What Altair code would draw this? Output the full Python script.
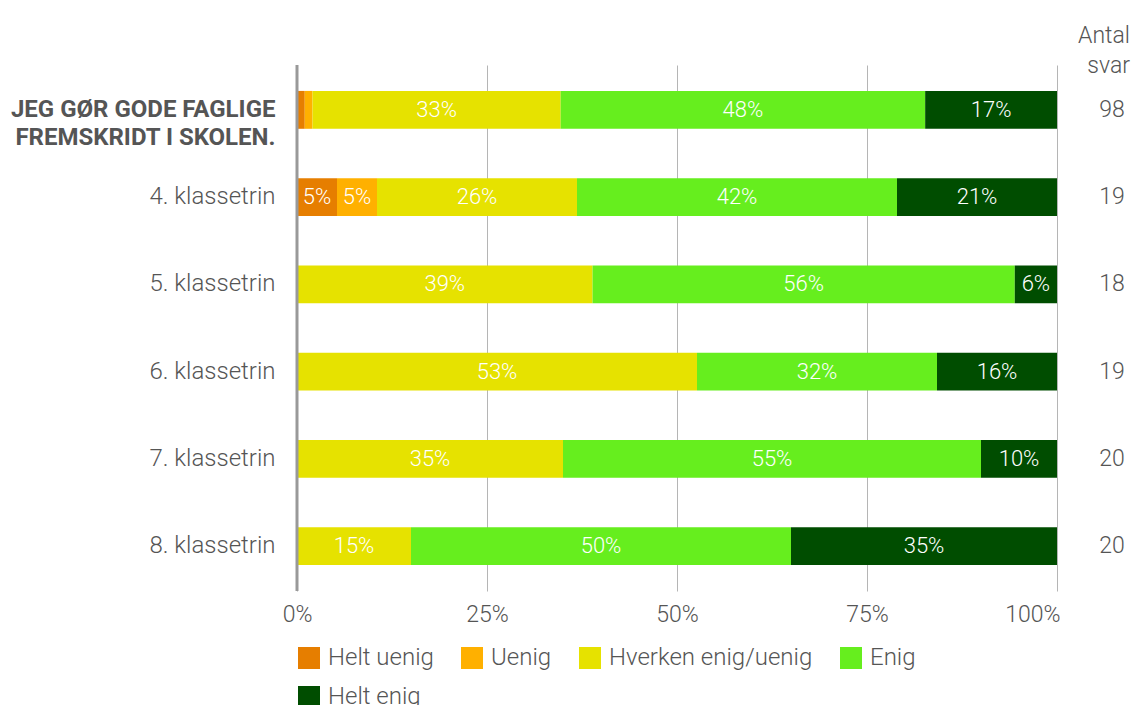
import altair as alt
import pandas as pd

rows = ["JEG GØR GODE FAGLIGE FREMSKRIDT I SKOLEN.", "4. klassetrin", "5. klassetrin",
        "6. klassetrin", "7. klassetrin", "8. klassetrin"]
answers = ["Helt uenig", "Uenig", "Hverken enig/uenig", "Enig", "Helt enig"]
colors = ["#E67E00", "#FFB000", "#E6E200", "#66EE1E", "#004D00"]

helt_uenig = [1, 1, 0, 0, 0, 0]
uenig = [1, 1, 0, 0, 0, 0]
hverken = [32, 5, 7, 10, 7, 3]
enig = [47, 8, 10, 6, 11, 10]
helt_enig = [17, 4, 1, 3, 2, 7]
totals = [98, 19, 18, 19, 20, 20]

series = [helt_uenig, uenig, hverken, enig, helt_enig]
recs = []
for i, r in enumerate(rows):
    cum = 0.0
    for j, a in enumerate(answers):
        pct = series[j][i] / totals[i] * 100
        recs.append({"row": r, "answer": a, "order": j, "start": cum, "end": cum + pct,
                     "mid": cum + pct / 2,
                     "label": f"{round(pct)}%" if pct >= 3 else ""})
        cum += pct
df = pd.DataFrame(recs)
df = df[df["end"] > df["start"]]
tot_df = pd.DataFrame({"row": rows, "n": totals})

FONT = "Roboto"
GREY = "#555555"
W = 300
first = rows[0]

yscale = alt.Scale(domain=rows, paddingInner=0.566, paddingOuter=0.297)
xscale = alt.Scale(domain=[0, 100], nice=False)

yaxis = alt.Axis(title=None, domain=False, ticks=False, labelPadding=22,
                 labelFont=FONT, labelColor=GREY,
                 labelFontSize=24,
                 labelFontWeight={"condition": {"test": f"datum.value == '{first}'", "value": "bold"}, "value": W},
                 labelLineHeight=28, labelLimit=400,
                 labelExpr=f"datum.value == '{first}' ? ['JEG GØR GODE FAGLIGE', 'FREMSKRIDT I SKOLEN.'] : datum.label")
xaxis = alt.Axis(title=None, domain=False, ticks=False, values=[0, 25, 50, 75, 100],
                 labelExpr="datum.value + '%'", labelFont=FONT, labelFontSize=23,
                 labelFontWeight=W,
                 labelColor=GREY, labelPadding=12, grid=True, gridColor="#b5b5b5",
                 labelAlign={"condition": {"test": "datum.value == 100", "value": "right"}, "value": "center"},
                 labelOffset={"condition": {"test": "datum.value == 100", "value": 3}, "value": 0})

base = alt.Chart(df)
bars = base.mark_bar().encode(
    y=alt.Y("row:N", scale=yscale, axis=yaxis, sort=rows),
    x=alt.X("start:Q", scale=xscale, axis=xaxis),
    x2="end:Q",
    color=alt.Color("answer:N", scale=alt.Scale(domain=answers, range=colors),
                    legend=alt.Legend(title=None, orient="none", legendX=0, legendY=581,
                                      direction="horizontal",
                                      columns=4, gridAlign="none", symbolType="square",
                                      symbolSize=484, symbolStrokeWidth=0, symbolOpacity=1,
                                      labelFont=FONT, labelFontSize=24, labelFontWeight=W,
                                      labelColor=GREY,
                                      labelOffset=7, columnPadding=26, rowPadding=15,
                                      labelLimit=400)),
    order="order:Q",
)
labels = base.mark_text(color="white", font=FONT, fontSize=22, fontWeight=W, baseline="middle").encode(
    y=alt.Y("row:N", scale=yscale, sort=rows),
    x=alt.X("mid:Q", scale=xscale),
    text="label:N",
)
zero = alt.Chart(pd.DataFrame({"z": [0]})).mark_rule(color="#999999", strokeWidth=3).encode(
    x=alt.X("z:Q", scale=xscale)
)
counts = alt.Chart(tot_df).mark_text(font=FONT, fontSize=23, fontWeight=W, color=GREY,
                                     baseline="middle").encode(
    y=alt.Y("row:N", scale=yscale, sort=rows),
    x=alt.value(815),
    text="n:Q",
)
header = alt.Chart(pd.DataFrame({"h": [1]})).mark_text(
    text=["Antal", "svar"], font=FONT, fontSize=23, fontWeight=W, color=GREY, baseline="middle",
    lineHeight=30, align="right"
).encode(x=alt.value(833), y=alt.value(-29))

chart = alt.layer(bars, zero, labels, counts, header).properties(
    width=760, height=526,
    autosize=alt.AutoSizeParams(type="none"),
    padding={"left": 289, "top": 57, "right": 75, "bottom": 114},
).configure_view(stroke=None)

chart.save("out.html", embed_options={"renderer": "svg", "actions": False})
